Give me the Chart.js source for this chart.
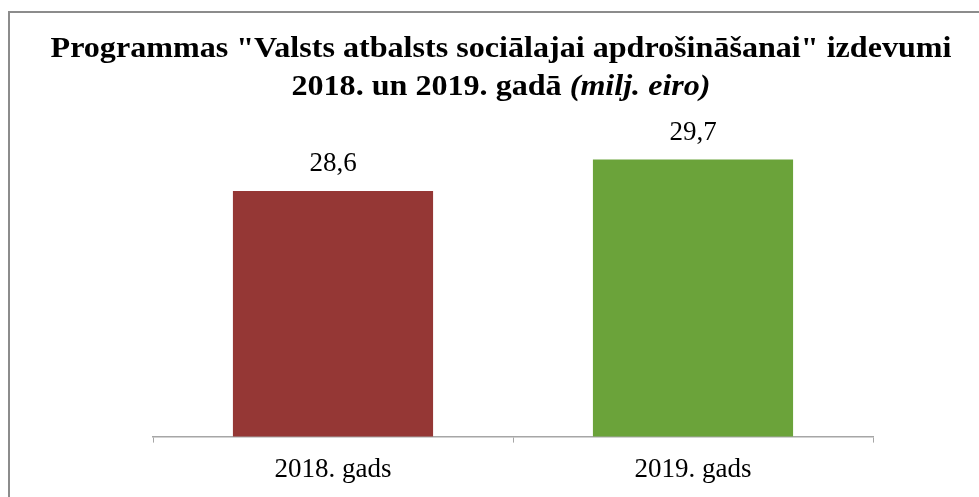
<!DOCTYPE html>
<html>
<head>
<meta charset="utf-8">
<script src="https://cdn.jsdelivr.net/npm/chart.js@4.4.0/dist/chart.umd.min.js"></script>
<style>
  html, body { margin: 0; padding: 0; background: #fff; overflow: hidden; }
  #ramis {
    position: absolute; left: 8px; top: 11px;
    width: 1100px; height: 600px;
    border-top: 2px solid #8c8c8c; border-left: 2px solid #8c8c8c;
  }
  #wrap { position: absolute; left: 0; top: 0; width: 979px; height: 497px; }
</style>
</head>
<body>
<div id="ramis"></div>
<div id="wrap"><canvas id="stabini"></canvas></div>
<script>
// dati no attēla
const gadi = ["2018. gads", "2019. gads"];
const izdevumi = [28.6, 29.7];
const krasas = ["#953735", "#6ba33a"];
const virsraksts1 = 'Programmas "Valsts atbalsts sociālajai apdrošināšanai" izdevumi';
const virsraksts2a = "2018. un 2019. gadā ";
const virsraksts2b = "(milj. eiro)";

// virsraksts ar jauktu stilu (treknraksts + kursīvs), nedaudz izstiepts platumā
const virsrakstaPlugins = {
    id: "virsraksts",
    afterDraw(chart) {
        const ctx = chart.ctx;
        const stiept = 1.07;
        const centrs = 501;
        ctx.save();
        ctx.fillStyle = "#000";
        ctx.textBaseline = "alphabetic";
        ctx.textAlign = "left";
        ctx.scale(stiept, 1);

        ctx.font = "bold 30px 'Liberation Serif'";
        let w1 = ctx.measureText(virsraksts1).width;
        ctx.fillText(virsraksts1, centrs / stiept - w1 / 2, 57);

        let wa = ctx.measureText(virsraksts2a).width;
        ctx.font = "italic bold 30px 'Liberation Serif'";
        let wb = ctx.measureText(virsraksts2b).width;
        let x0 = centrs / stiept - (wa + wb) / 2;
        ctx.font = "bold 30px 'Liberation Serif'";
        ctx.fillText(virsraksts2a, x0, 95);
        ctx.font = "italic bold 30px 'Liberation Serif'";
        ctx.fillText(virsraksts2b, x0 + wa, 95);
        ctx.restore();
    }
};

// vērtības virs stabiņiem
const vertibuPlugins = {
    id: "vertibas",
    afterDatasetsDraw(chart) {
        const ctx = chart.ctx;
        const meta = chart.getDatasetMeta(0);
        ctx.save();
        ctx.font = "27px 'Liberation Serif'";
        ctx.fillStyle = "#000";
        ctx.textAlign = "center";
        ctx.textBaseline = "alphabetic";
        meta.data.forEach(function (bar, i) {
            ctx.fillText(izdevumi[i].toFixed(1).replace(".", ","), bar.x, bar.y - 20);
        });
        ctx.restore();
    }
};

const config = {
    type: "bar",
    data: {
        labels: gadi,
        datasets: [{
            data: izdevumi,
            backgroundColor: krasas,
            borderWidth: 0,
            categoryPercentage: 1,
            barPercentage: 0.556
        }]
    },
    options: {
        responsive: true,
        maintainAspectRatio: false,
        animation: false,
        layout: { padding: { top: 151, left: 153, right: 106, bottom: 0 } },
        plugins: {
            legend: { display: false },
            title: { display: false },
            tooltip: { enabled: false }
        },
        scales: {
            x: {
                grid: {
                    drawOnChartArea: false,
                    drawTicks: true,
                    tickLength: 6,
                    color: "#a6a6a6"
                },
                border: { color: "#a6a6a6", width: 1.5 },
                ticks: {
                    color: "#000",
                    padding: 11,
                    font: { family: "'Liberation Serif'", size: 27 }
                }
            },
            y: {
                display: false,
                min: 20,
                max: 30
            }
        }
    },
    plugins: [virsrakstaPlugins, vertibuPlugins]
};

new Chart(document.getElementById("stabini").getContext("2d"), config);
</script>
</body>
</html>
